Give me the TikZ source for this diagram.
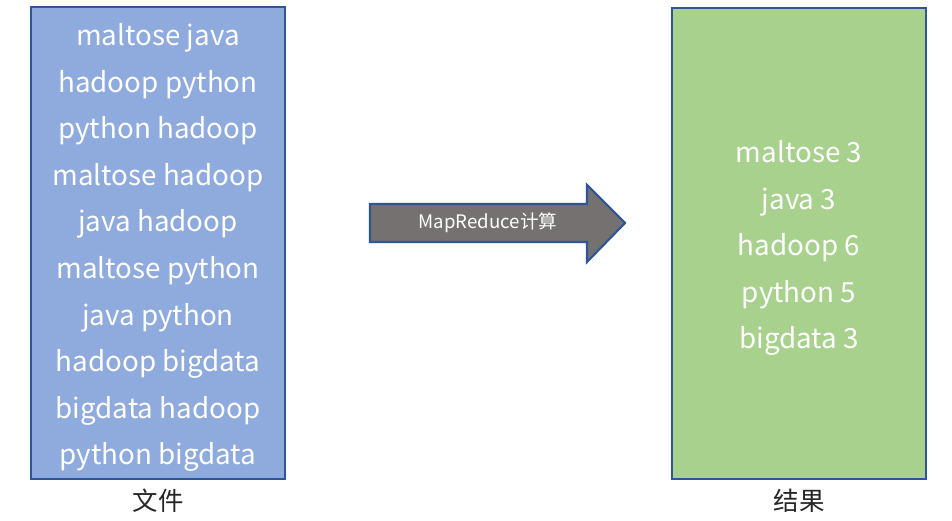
\documentclass[tikz,border=0pt]{standalone}
\usepackage{fontspec}
\setmainfont{Noto Sans CJK SC}
\definecolor{boxblue}{HTML}{8FAADC}
\definecolor{boxgreen}{HTML}{A9D18E}
\definecolor{edgeblue}{HTML}{2F5597}
\definecolor{arrowgray}{HTML}{767171}
\begin{document}
\begin{tikzpicture}[x=0.02cm,y=-0.02cm,
  item/.style={text=white,font=\fontsize{15.8pt}{18pt}\selectfont,inner sep=0pt,anchor=base},
  captext/.style={text=black!85,font=\fontsize{14.5pt}{17pt}\selectfont,inner sep=0pt}]
\useasboundingbox (0,0) rectangle (952,520);
\draw[edgeblue,line width=1.2pt,fill=boxblue] (31,7) rectangle (285,479);
\draw[edgeblue,line width=1.2pt,fill=boxgreen] (672,8) rectangle (926,479);
\draw[edgeblue,line width=1.2pt,fill=arrowgray,line join=miter]
  (370,204) -- (587,204) -- (587,185) -- (625,223) -- (587,262) -- (587,242) -- (370,242) -- cycle;
\node[text=white,font=\fontsize{10.6pt}{12pt}\selectfont,inner sep=0pt] (ar) at (488,223) {MapReduce计算};
\foreach \t [count=\i] in {maltose java,hadoop python,python hadoop,maltose hadoop,java hadoop,maltose python,java python,hadoop bigdata,bigdata hadoop,python bigdata}
  \node[item] (l\i) at (158,{45.5+46.6*(\i-1)}) {\t};
\foreach \t [count=\i] in {maltose 3,java 3,hadoop 6,python 5,bigdata 3}
  \node[item] (r\i) at (799,{162.5+46.6*(\i-1)}) {\t};
\node[captext] (c1) at (158,501) {文件};
\node[captext] (c2) at (799,501) {结果};
\end{tikzpicture}
\end{document}
